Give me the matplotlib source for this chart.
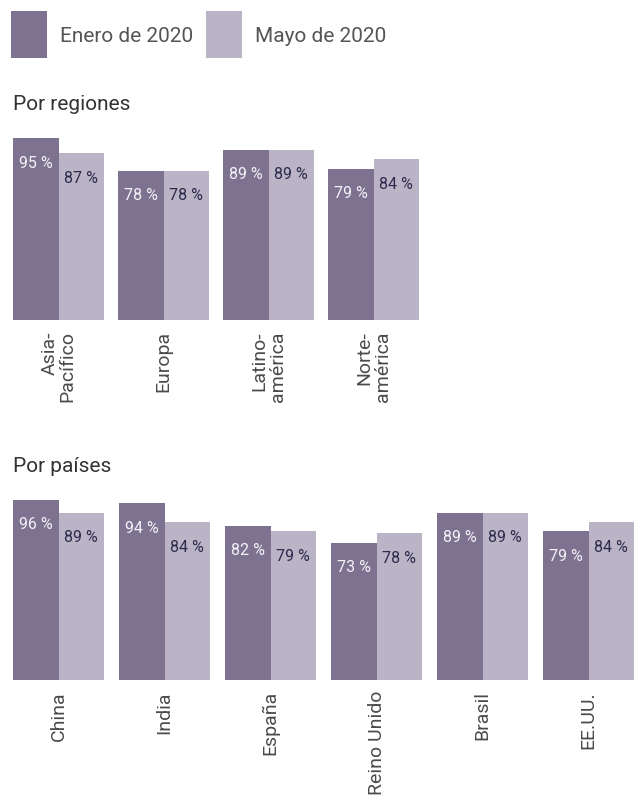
import numpy as np
import matplotlib.pyplot as plt
from matplotlib.patches import Rectangle

# datos: porcentaje por region y por pais
regiones = ['Asia-\nPacífico', 'Europa', 'Latino-\namérica', 'Norte-\namérica']
reg_enero = [95, 78, 89, 79]
reg_mayo = [87, 78, 89, 84]

paises = ['China', 'India', 'España', 'Reino Unido', 'Brasil', 'EE.UU.']
pais_enero = [96, 94, 82, 73, 89, 79]
pais_mayo = [89, 84, 79, 78, 89, 84]

series = ['Enero de 2020', 'Mayo de 2020']

DARK = '#7d7391'
LIGHT = '#bbb4c7'

plt.rcParams['font.family'] = ['Roboto', 'DejaVu Sans']

W, H = 635, 796
fig = plt.figure(figsize=(W / 100, H / 100), dpi=100)


def px_axes(base_y, height):
    # base_y: linea base en px desde arriba
    return fig.add_axes([0, 1 - base_y / H, 1, height / H])


def panel(ax, labels, enero, mayo, pitch, scale, height):
    bw = 45.5 / pitch
    x = np.arange(len(labels))
    ax.bar(x, enero, width=bw, align='edge', color=DARK)
    ax.bar(x + bw, mayo, width=bw, align='edge', color=LIGHT)
    off = 25 / scale
    for xi, v in zip(x, enero):
        ax.text(xi + bw / 2, v - off, f'{v} %', ha='center', va='center',
                color='#f4f2f7', fontsize=11.5)
    for xi, v in zip(x, mayo):
        ax.text(xi + 1.5 * bw, v - off, f'{v} %', ha='center', va='center',
                color='#2c2b4c', fontsize=11.5)
    ax.set_xlim(-13 / pitch, 622 / pitch)
    ax.set_ylim(0, height / scale)
    ax.set_xticks(x + bw)
    ax.set_xticklabels(labels, rotation=90, fontsize=14, color='#4a4a4a',
                       linespacing=1.0)
    for t in ax.get_xticklabels():
        t.set_multialignment('right')
    ax.tick_params(axis='x', length=0, pad=8)
    ax.set_yticks([])
    for s in ax.spines.values():
        s.set_visible(False)
    ax.patch.set_alpha(0)


ax1 = px_axes(320, 200)
panel(ax1, regiones, reg_enero, reg_mayo, 105, 1.915, 200)

ax2 = px_axes(680, 200)
panel(ax2, paises, pais_enero, pais_mayo, 106, 1.88, 200)

fig.text(13 / W, 1 - 110 / H, 'Por regiones', fontsize=15, color='#333333', va='baseline')
fig.text(13 / W, 1 - 472 / H, 'Por países', fontsize=15, color='#333333', va='baseline')

# leyenda: cuadros de color y texto
for x0, col, name in zip([11, 206], [DARK, LIGHT], series):
    fig.add_artist(Rectangle((x0 / W, 1 - 58 / H), 36 / W, 47 / H,
                             transform=fig.transFigure, color=col, lw=0))
    fig.text((x0 + 49) / W, 1 - 36 / H, name, fontsize=15, color='#555555',
             va='center')

fig.savefig('out.png', dpi=100)
